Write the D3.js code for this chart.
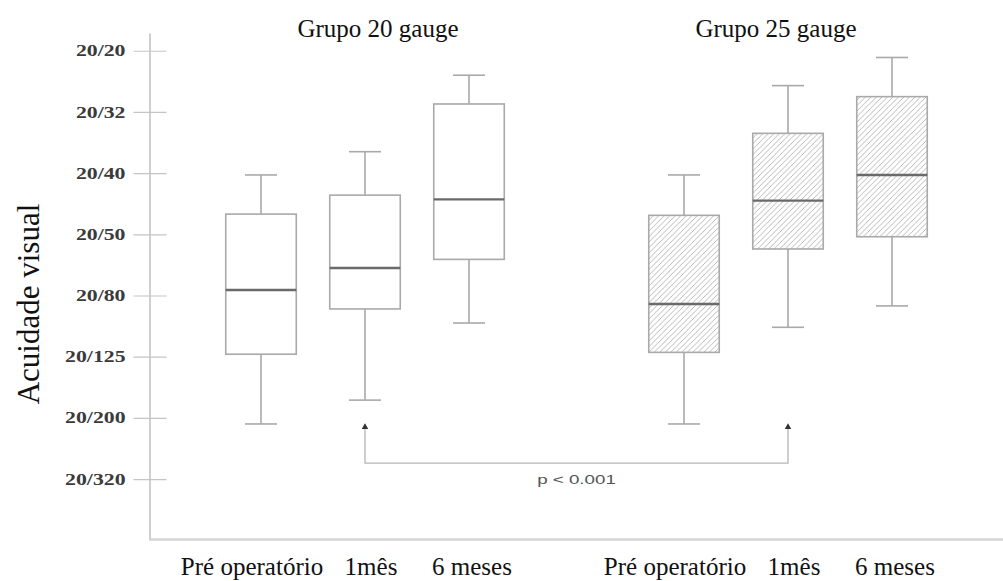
<!DOCTYPE html>
<html>
<head>
<meta charset="utf-8">
<script src="https://cdn.jsdelivr.net/npm/d3@7"></script>
<style>
  html, body { margin: 0; padding: 0; background: #fff; }
  svg { display: block; }
</style>
</head>
<body>
<svg id="chart" width="1003" height="581"></svg>
<script>
// Visual acuity scale, in line steps (0 = 20/20 ... 7 = 20/320)
const tickLabels = ["20/20", "20/32", "20/40", "20/50", "20/80", "20/125", "20/200", "20/320"];

const groups = ["Grupo 20 gauge", "Grupo 25 gauge"];
const timepoints = ["Pré operatório", "1mês", "6 meses"];

// Box statistics per time point, in acuity line steps
const g20Upper  = [2.03, 1.65, 0.40];
const g20Q3     = [2.67, 2.36, 0.87];
const g20Median = [3.91, 3.55, 2.43];
const g20Q1     = [4.96, 4.22, 3.41];
const g20Lower  = [6.10, 5.71, 4.45];

const g25Upper  = [2.03, 0.57, 0.11];
const g25Q3     = [2.69, 1.35, 0.75];
const g25Median = [4.14, 2.45, 2.03];
const g25Q1     = [4.93, 3.24, 3.04];
const g25Lower  = [6.10, 4.52, 4.17];

// Comparison bracket between the 1-month boxes
const bracketMarker = 6.15;
const bracketLevel = 6.74;
const bracketText = "p < 0.001";
const yLabel = "Acuidade visual";

const rows = [];
groups.forEach((g, gi) => {
  const src = gi === 0
    ? [g20Upper, g20Q3, g20Median, g20Q1, g20Lower]
    : [g25Upper, g25Q3, g25Median, g25Q1, g25Lower];
  timepoints.forEach((t, ti) => {
    rows.push({ group: g, time: t, ti, upper: src[0][ti], q3: src[1][ti], median: src[2][ti], q1: src[3][ti], lower: src[4][ti], hatched: gi === 1 });
  });
});

const svg = d3.select("#chart");
const serif = "Liberation Serif, Times New Roman, serif";

const y = d3.scaleLinear().domain([-0.29, 7.98]).range([33, 539]);
const axisX = 149.5;

const gx = d3.scalePoint().domain(groups).range([365, 788]);
const tx = d3.scalePoint().domain(timepoints).range([-104, 104]);
const cx = d => gx(d.group) + tx(d.time);
const boxW = 70.5;
const capW = 32;
// small horizontal nudges so the long category names do not collide
const labelShift = [-9, 6, 3];

// Hatch pattern for the 25 gauge boxes
const defs = svg.append("defs");
defs.append("pattern")
  .attr("id", "hatch")
  .attr("patternUnits", "userSpaceOnUse")
  .attr("width", 5.5).attr("height", 5.5)
  .append("path")
  .attr("d", "M0,5.5 L5.5,0 M-1.5,1.5 L1.5,-1.5 M4,7 L7,4")
  .attr("stroke", "#b0b0b0")
  .attr("stroke-width", 0.9);

// Left axis
const yAxis = d3.axisLeft(y)
  .tickValues(d3.range(tickLabels.length))
  .tickFormat(i => tickLabels[i])
  .tickSize(16)
  .tickSizeOuter(0);

const ya = svg.append("g")
  .attr("transform", `translate(${axisX},0)`)
  .call(yAxis);
ya.select(".domain").attr("stroke", "#cfcfcf").attr("stroke-width", 2);
ya.selectAll(".tick line").attr("x1", 17).attr("stroke", "#c4c4c4").attr("stroke-width", 1.2);
ya.selectAll(".tick text")
  .attr("x", 0)
  .attr("transform", "translate(-24,0) scale(1.36,1)")
  .attr("font-family", serif)
  .attr("font-size", 16)
  .attr("font-weight", "bold")
  .attr("fill", "#3a3a3a");

// Bottom axis line
const xLine = d3.scaleLinear().domain([0, 1]).range([axisX - 1, 1003]);
const xa = svg.append("g")
  .attr("transform", `translate(0,${y.range()[1]})`)
  .call(d3.axisBottom(xLine).tickValues([]).tickSizeOuter(0));
xa.select(".domain").attr("stroke", "#d4d4d4").attr("stroke-width", 2.5);

// Group titles
svg.append("g").selectAll("text")
  .data(groups)
  .join("text")
  .attr("x", d => gx(d) + (d === groups[0] ? 13 : -12))
  .attr("y", 37)
  .attr("text-anchor", "middle")
  .attr("font-family", serif)
  .attr("font-size", 25)
  .attr("fill", "#111")
  .text(d => d);

// Time point labels
svg.append("g").selectAll("text")
  .data(rows)
  .join("text")
  .attr("x", d => cx(d) + labelShift[d.ti])
  .attr("y", 575)
  .attr("text-anchor", "middle")
  .attr("font-family", serif)
  .attr("font-size", 25)
  .attr("fill", "#111")
  .text(d => d.time);

// Y title
svg.append("text")
  .attr("transform", "translate(39,304) rotate(-90)")
  .attr("text-anchor", "middle")
  .attr("font-family", serif)
  .attr("font-size", 31)
  .attr("fill", "#111")
  .text(yLabel);

// Box plots
const boxes = svg.append("g").selectAll("g")
  .data(rows)
  .join("g");

const stroke = "#a9a9a9";

boxes.append("line")
  .attr("x1", cx).attr("x2", cx)
  .attr("y1", d => y(d.upper)).attr("y2", d => y(d.q3))
  .attr("stroke", stroke).attr("stroke-width", 1.6);
boxes.append("line")
  .attr("x1", cx).attr("x2", cx)
  .attr("y1", d => y(d.q1)).attr("y2", d => y(d.lower))
  .attr("stroke", stroke).attr("stroke-width", 1.6);
boxes.append("line")
  .attr("x1", d => cx(d) - capW / 2).attr("x2", d => cx(d) + capW / 2)
  .attr("y1", d => y(d.upper)).attr("y2", d => y(d.upper))
  .attr("stroke", stroke).attr("stroke-width", 1.6);
boxes.append("line")
  .attr("x1", d => cx(d) - capW / 2).attr("x2", d => cx(d) + capW / 2)
  .attr("y1", d => y(d.lower)).attr("y2", d => y(d.lower))
  .attr("stroke", stroke).attr("stroke-width", 1.6);
boxes.append("rect")
  .attr("x", d => cx(d) - boxW / 2)
  .attr("width", boxW)
  .attr("y", d => y(d.q3))
  .attr("height", d => y(d.q1) - y(d.q3))
  .attr("fill", d => d.hatched ? "url(#hatch)" : "#fff")
  .attr("stroke", stroke).attr("stroke-width", 1.6);
boxes.append("line")
  .attr("x1", d => cx(d) - boxW / 2).attr("x2", d => cx(d) + boxW / 2)
  .attr("y1", d => y(d.median)).attr("y2", d => y(d.median))
  .attr("stroke", "#6a6a6a").attr("stroke-width", 2.4);

// Significance bracket between the two 1-month boxes
const ends = rows.filter(d => d.time === timepoints[1]).map(cx);
const br = svg.append("g");
br.append("path")
  .attr("d", `M${ends[0]},${y(bracketMarker)} V${y(bracketLevel)} H${ends[1]} V${y(bracketMarker)}`)
  .attr("fill", "none")
  .attr("stroke", "#b5b5b5")
  .attr("stroke-width", 1.3);
br.selectAll("path.tri")
  .data(ends)
  .join("path")
  .attr("class", "tri")
  .attr("d", d3.symbol(d3.symbolTriangle, 18))
  .attr("transform", d => `translate(${d},${y(bracketMarker)})`)
  .attr("fill", "#333");
br.append("text")
  .attr("transform", `translate(${(ends[0] + ends[1]) / 2},${y(bracketLevel) + 21}) scale(1.5,1)`)
  .attr("text-anchor", "middle")
  .attr("font-family", "Liberation Sans, Arial, sans-serif")
  .attr("font-size", 12.5)
  .attr("fill", "#555")
  .text(bracketText);
</script>
</body>
</html>
